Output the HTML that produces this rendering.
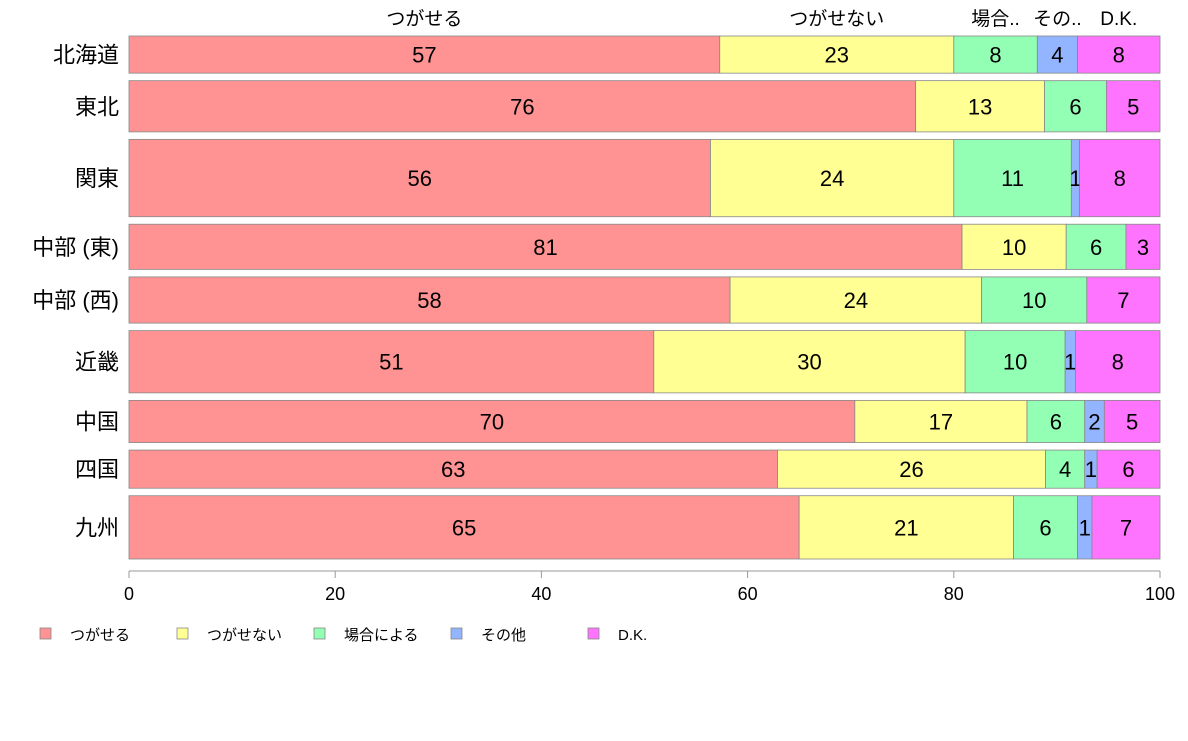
<!DOCTYPE html>
<html><head><meta charset="utf-8">
<style>
body{margin:0;background:#fff;width:1188px;height:736px;overflow:hidden}
svg{font-family:"Liberation Sans","Noto Sans CJK JP",sans-serif}
</style></head>
<body>
<svg id="chart" width="1188" height="736" xmlns="http://www.w3.org/2000/svg"></svg>
<script>
const categories = ["北海道","東北","関東","中部 (東)","中部 (西)","近畿","中国","四国","九州"];
const rowWeights = [37,51,77,45,46,62,42,38,63];
const seriesNames = ["つがせる","つがせない","場合による","その他","D.K."];
const topLabels = ["つがせる","つがせない","場合..","その..","D.K."];
const s1 = [57.3,76.3,56.4,80.8,58.3,50.9,70.4,62.9,65.0];
const s2 = [22.7,12.5,23.6,10.1,24.4,30.2,16.7,26.0,20.8];
const s3 = [8.1,6.0,11.4,5.8,10.2,9.7,5.6,3.8,6.2];
const s4 = [3.9,0,0.8,0,0,1.0,1.9,1.2,1.4];
const s5 = [8.0,5.2,7.8,3.3,7.1,8.2,5.4,6.1,6.6];
const xTicks = [0,20,40,60,80,100];
const colors = ["#FF9393","#FFFF93","#93FFB4","#93B4FF","#FF74FF"];
const svg = document.getElementById('chart');
const NS = "http://www.w3.org/2000/svg";
const X0=129, X1=1160, Y0=36, Y1=559, GAP=7.5;
const x = v => X0 + (X1-X0)*v/100;
const totalW = rowWeights.reduce((a,b)=>a+b,0);
const avail = (Y1-Y0) - GAP*(categories.length-1);
function mk(tag, attrs, text){const e=document.createElementNS(NS,tag);for(const k in attrs)e.setAttribute(k,attrs[k]);if(text!==undefined)e.textContent=text;svg.appendChild(e);return e;}
const series=[s1,s2,s3,s4,s5];
let y=Y0;
let firstRowCenters=[];
categories.forEach((c,i)=>{
  const h=avail*rowWeights[i]/totalW;
  const t=mk('text',{x:119,y:y+h/2+8,'text-anchor':'end','font-size':22,fill:'#000'},c);
  
  
  let cum=0;
  series.forEach((s,j)=>{
    const v=s[i];
    const xa=x(cum), xb=x(cum+v);
    if(i===0) firstRowCenters.push((xa+xb)/2);
    if(v>0){
      const r=mk('rect',{x:xa,y:y,width:xb-xa,height:h,fill:colors[j],stroke:'#888','stroke-width':0.8});
      
      
      const lt=mk('text',{x:(xa+xb)/2,y:y+h/2+8,'text-anchor':'middle','font-size':22,fill:'#000'},Math.round(v));
      
      
    }
    cum+=v;
  });
  y+=h+GAP;
});
topLabels.forEach((l,j)=>{
  const t=mk('text',{x:firstRowCenters[j],y:25,'text-anchor':'middle','font-size':19,fill:'#000'},l);
  
  
});
const ax=mk('line',{x1:X0,x2:X1,y1:571,y2:571,stroke:'#999'});


xTicks.forEach(v=>{
  const tk=mk('line',{x1:x(v),x2:x(v),y1:571,y2:578,stroke:'#999'});
  
  
  const tl=mk('text',{x:x(v),y:600,'text-anchor':'middle','font-size':18,fill:'#000'},v);
  
  
});
const legX=[40,177,314,451,588];
seriesNames.forEach((n,j)=>{
  const r=mk('rect',{x:legX[j],y:628,width:11,height:11,fill:colors[j],stroke:'#888','stroke-width':0.8});
  
  
  const t=mk('text',{x:legX[j]+30,y:640,'font-size':15,fill:'#000'},n);
  
  
});
</script>
</body></html>
